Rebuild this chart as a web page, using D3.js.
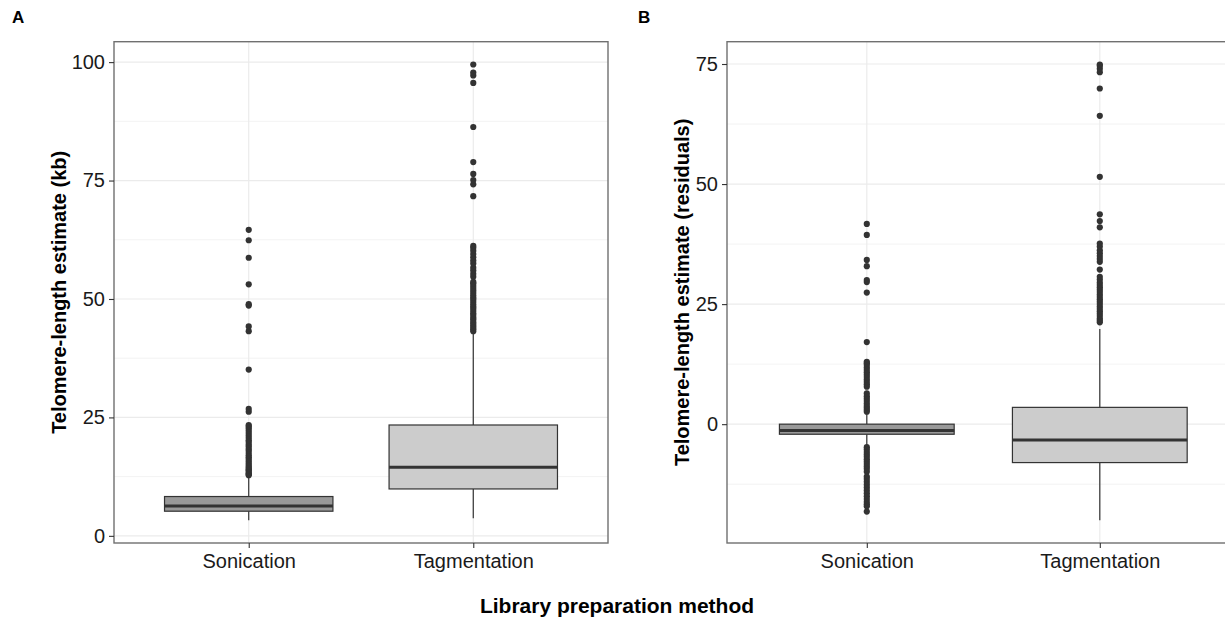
<!DOCTYPE html>
<html>
<head>
<meta charset="utf-8">
<script src="https://cdn.jsdelivr.net/npm/d3@7"></script>
<style>
  html, body { margin: 0; padding: 0; background: #fff; }
  svg { display: block; font-family: "Liberation Sans", Arial, Helvetica, sans-serif; }
</style>
</head>
<body>
<svg id="chart" width="1225" height="621"></svg>
<script>
// ---------------- DATA ----------------
const categories = ["Sonication", "Tagmentation"];
const boxFills = ["#999999", "#cccccc"];

// Panel A: Telomere-length estimate (kb)
const aWhiskerLow  = [3.3, 3.7];
const aQ1          = [5.2, 9.9];
const aMedian      = [6.3, 14.5];
const aQ3          = [8.3, 23.4];
const aWhiskerHigh = [12.3, 43.0];
const aOutliersSonication = [12.8, 13.0, 13.2, 13.5, 13.8, 14.0, 14.3, 14.6, 15.0, 15.4, 15.8, 16.2,
  16.6, 17.0, 17.5, 18.0, 18.4, 18.9, 19.3, 19.8, 20.2, 20.7, 21.2, 21.7, 22.2, 22.7, 23.1, 23.4,
  26.2, 26.8, 35.1, 43.2, 44.2, 48.6, 48.9, 53.1, 58.7, 62.4, 64.6];
const aOutliersTagmentation = [43.2, 43.6, 44.0, 44.4, 44.8, 45.2, 45.7, 46.1, 46.6, 47.0, 47.5, 48.0,
  48.4, 48.9, 49.4, 49.9, 50.3, 50.8, 51.3, 51.8, 52.3, 52.8, 53.3, 53.6, 54.7, 55.3, 56.0, 56.6, 57.5,
  58.1, 58.8, 59.5, 60.2, 60.8, 61.2, 71.7, 74.2, 75.1, 76.4, 78.9, 86.3, 95.6, 97.2, 97.8, 99.5];
const aTicks = [0, 25, 50, 75, 100];

// Panel B: Telomere-length estimate (residuals)
const bWhiskerLow  = [-4.5, -20.0];
const bQ1          = [-2.1, -8.0];
const bMedian      = [-1.3, -3.3];
const bQ3          = [0.0, 3.5];
const bWhiskerHigh = [2.3, 19.8];
const bOutliersSonication = [2.6, 3.0, 3.4, 3.8, 4.3, 4.8, 5.3, 5.8, 6.4, 7.8, 8.3, 8.8, 9.3, 9.8,
  10.3, 10.8, 11.3, 11.8, 12.3, 12.7, 13.0, 17.1, 27.4, 29.6, 30.0, 32.9, 34.2, 39.4, 41.7,
  -4.8, -5.3, -5.8, -6.3, -6.8, -7.3, -7.8, -8.3, -8.8, -9.3, -9.9, -10.9, -11.4, -12.0, -12.6,
  -13.2, -13.8, -14.4, -15.0, -15.6, -16.2, -16.7, -17.1, -18.2];
const bOutliersTagmentation = [21.2, 21.6, 22.0, 22.5, 23.0, 23.5, 24.0, 24.5, 25.0, 25.5, 26.0,
  26.5, 27.0, 27.5, 28.0, 28.5, 29.0, 29.5, 30.1, 30.7, 32.2, 33.8, 34.4, 35.0, 35.6, 36.2, 37.0,
  37.6, 41.0, 42.3, 43.7, 51.5, 64.2, 69.9, 73.3, 74.0, 74.6, 74.9];
const bTicks = [0, 25, 50, 75];

// ---------------- DRAW ----------------
const svg = d3.select("#chart");
const TEXT = "#1a1a1a";
const GRID = "#ebebeb";

function drawPanel(cfg) {
  const { left, right, top, bottom, wLow, q1, med, q3, wHigh, outliers, ticks, title, titleX } = cfg;
  const g = svg.append("g");

  const allVals = wLow.concat(wHigh, ...outliers);
  const lo = d3.min(allVals), hi = d3.max(allVals);
  const pad = (hi - lo) * 0.05;
  const y = d3.scaleLinear().domain([lo - pad, hi + pad]).range([bottom, top]);
  const x = d3.scalePoint().domain(categories).range([left, right]).padding(0.6);
  const step = x.step();
  const bw = step * 0.75;

  // clip
  const clipId = "clip" + left;
  svg.append("clipPath").attr("id", clipId)
    .append("rect").attr("x", left).attr("y", top).attr("width", right - left).attr("height", bottom - top);
  const pg = g.append("g").attr("clip-path", `url(#${clipId})`);

  // minor grid
  const minor = [];
  const tstep = ticks[1] - ticks[0];
  for (let v = ticks[0] - tstep / 2; v <= y.domain()[1]; v += tstep) {
    if (v >= y.domain()[0]) minor.push(v);
  }
  pg.selectAll(".minor").data(minor).enter().append("line")
    .attr("x1", left).attr("x2", right)
    .attr("y1", d => y(d)).attr("y2", d => y(d))
    .attr("stroke", GRID).attr("stroke-width", 0.6);
  // major grid
  pg.selectAll(".major").data(ticks).enter().append("line")
    .attr("x1", left).attr("x2", right)
    .attr("y1", d => y(d)).attr("y2", d => y(d))
    .attr("stroke", GRID).attr("stroke-width", 1.2);
  pg.selectAll(".vmajor").data(categories).enter().append("line")
    .attr("x1", d => x(d)).attr("x2", d => x(d))
    .attr("y1", top).attr("y2", bottom)
    .attr("stroke", GRID).attr("stroke-width", 1.2);

  // boxes
  categories.forEach((c, i) => {
    const cx = x(c);
    pg.append("line").attr("x1", cx).attr("x2", cx)
      .attr("y1", y(q3[i])).attr("y2", y(wHigh[i]))
      .attr("stroke", "#333").attr("stroke-width", 1.2);
    pg.append("line").attr("x1", cx).attr("x2", cx)
      .attr("y1", y(q1[i])).attr("y2", y(wLow[i]))
      .attr("stroke", "#333").attr("stroke-width", 1.2);
    pg.append("rect")
      .attr("x", cx - bw / 2).attr("width", bw)
      .attr("y", y(q3[i])).attr("height", y(q1[i]) - y(q3[i]))
      .attr("fill", boxFills[i]).attr("stroke", "#333").attr("stroke-width", 1.2);
    pg.append("line").attr("x1", cx - bw / 2).attr("x2", cx + bw / 2)
      .attr("y1", y(med[i])).attr("y2", y(med[i]))
      .attr("stroke", "#333").attr("stroke-width", 3);
    pg.selectAll(".pt" + i).data(outliers[i]).enter().append("circle")
      .attr("cx", cx).attr("cy", d => y(d)).attr("r", 3.1)
      .attr("fill", "#333");
  });

  // border
  g.append("rect").attr("x", left).attr("y", top)
    .attr("width", right - left).attr("height", bottom - top)
    .attr("fill", "none").attr("stroke", "#707070").attr("stroke-width", 1.4);

  // y axis
  const ya = g.append("g").attr("transform", `translate(${left},0)`)
    .call(d3.axisLeft(y).tickValues(ticks).tickSize(5).tickPadding(4).tickFormat(d3.format("d")));
  ya.select(".domain").remove();
  ya.selectAll(".tick line").attr("stroke", "#333").attr("stroke-width", 1.1);
  ya.selectAll(".tick text").attr("fill", TEXT).style("font-size", "20px");

  // x axis
  const xa = g.append("g").attr("transform", `translate(0,${bottom})`)
    .call(d3.axisBottom(x).tickSize(5).tickPadding(4));
  xa.select(".domain").remove();
  xa.selectAll(".tick line").attr("stroke", "#333").attr("stroke-width", 1.1);
  xa.selectAll(".tick text").attr("fill", TEXT).style("font-size", "20px").attr("dy", "0.78em");

  // y title
  g.append("text")
    .attr("transform", `translate(${titleX},${(top + bottom) / 2}) rotate(-90)`)
    .attr("text-anchor", "middle")
    .style("font-size", "20px").style("font-weight", "bold").attr("fill", "#000")
    .text(title);
}

drawPanel({
  left: 114, right: 608, top: 41.7, bottom: 543,
  wLow: aWhiskerLow, q1: aQ1, med: aMedian, q3: aQ3, wHigh: aWhiskerHigh,
  outliers: [aOutliersSonication, aOutliersTagmentation], ticks: aTicks,
  title: "Telomere-length estimate (kb)", titleX: 65.5
});
drawPanel({
  left: 727, right: 1239.6, top: 41.7, bottom: 543,
  wLow: bWhiskerLow, q1: bQ1, med: bMedian, q3: bQ3, wHigh: bWhiskerHigh,
  outliers: [bOutliersSonication, bOutliersTagmentation], ticks: bTicks,
  title: "Telomere-length estimate (residuals)", titleX: 689
});

// panel tags
svg.append("text").attr("x", 12).attr("y", 22.5).style("font-size", "17px").style("font-weight", "bold").text("A");
svg.append("text").attr("x", 638).attr("y", 22.5).style("font-size", "17px").style("font-weight", "bold").text("B");

// common x title
svg.append("text").attr("x", 617).attr("y", 613).attr("text-anchor", "middle")
  .style("font-size", "21px").style("font-weight", "bold").text("Library preparation method");
</script>
</body>
</html>
